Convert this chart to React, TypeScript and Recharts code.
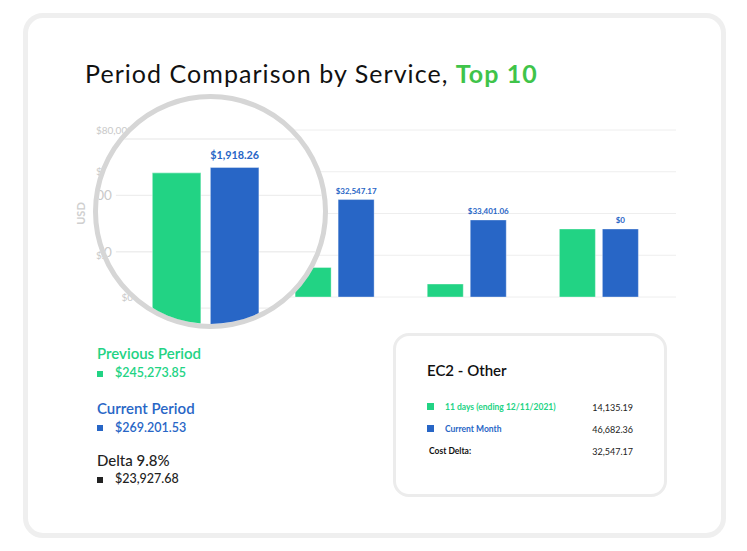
import React from "react";
import { BarChart, Bar, XAxis, YAxis, CartesianGrid, LabelList } from "recharts";

const categories = ["Amazon EC2", "EC2 - Other", "Amazon RDS", "Amazon S3"];
const previousPeriod = [68000, 14135.19, 6200, 32575];
const currentPeriod = [69918.26, 46682.36, 36900, 32575];
const deltaLabels = ["$1,918.26", "$32,547.17", "$33,401.06", "$0"];
const yTicks = [0, 20000, 40000, 60000, 80000];

const legendTitles = ["Previous Period", "Current Period", "Delta 9.8%"];
const legendValues = ["$245,273.85", "$269.201.53", "$23,927.68"];

const cardIndex = 1;
const cardRowLabels = ["11 days (ending 12/11/2021)", "Current Month", "Cost Delta:"];

const GREEN = "#22d384";
const BLUE = "#2866c6";
const DARK = "#222222";
const FONT = "Lato, 'Noto Sans', sans-serif";

const data = categories.map((name, i) => ({
  name,
  previous: previousPeriod[i],
  current: currentPeriod[i],
  delta: deltaLabels[i],
}));

const fmtTick = (v: number) => "$" + v.toLocaleString("en-US");
const fmtNum = (v: number) =>
  v.toLocaleString("en-US", { minimumFractionDigits: 2, maximumFractionDigits: 2 });

function PeriodChart() {
  return (
    <BarChart
      width={747}
      height={551}
      data={data}
      margin={{ top: 130, right: 71, bottom: 254, left: 76 }}
      barSize={36}
      barGap={7}
    >
      <CartesianGrid vertical={false} stroke="#eeeeee" />
      <XAxis dataKey="name" hide padding={{ left: 0, right: 11.5 }} />
      <YAxis
        width={60}
        domain={[0, 80000]}
        ticks={yTicks}
        tickFormatter={fmtTick}
        axisLine={false}
        tickLine={false}
        tickSize={0}
        tickMargin={3}
        tick={{ fill: "#c9c9c9", fontSize: 10, fontFamily: FONT }}
        label={{
          value: "USD",
          angle: -90,
          position: "insideLeft",
          offset: 5,
          style: { textAnchor: "middle", fill: "#cfcfcf", fontSize: 11, fontWeight: 700, fontFamily: FONT },
        }}
      />
      <Bar dataKey="previous" fill={GREEN} stroke="#ffffff" strokeOpacity={0.35} isAnimationActive={false} />
      <Bar dataKey="current" fill={BLUE} stroke="#ffffff" strokeOpacity={0.35} isAnimationActive={false}>
        <LabelList
          dataKey="delta"
          position="top"
          offset={6}
          fill={BLUE}
          fontSize={8}
          fontWeight={700}
          fontFamily={FONT}
          isAnimationActive={false}
        />
      </Bar>
    </BarChart>
  );
}

const abs = (left: number, top: number, extra: React.CSSProperties = {}): React.CSSProperties => ({
  position: "absolute",
  left,
  top,
  lineHeight: 1,
  whiteSpace: "nowrap",
  ...extra,
});

export default function App() {
  const legendColors = [GREEN, BLUE, DARK];
  const legendTops = [346, 400.7, 453.4];
  const valueTops = [366.9, 421.6, 473];
  const squareTops = [370.5, 425, 476.5];

  const cardValues = [
    fmtNum(previousPeriod[cardIndex]),
    fmtNum(currentPeriod[cardIndex]),
    fmtNum(currentPeriod[cardIndex] - previousPeriod[cardIndex]),
  ];
  const cardRowTops = [402.5, 424.5, 447];

  return (
    <div
      style={{
        position: "absolute",
        left: 0,
        top: 0,
        width: 747,
        height: 551,
        background: "#ffffff",
        overflow: "hidden",
        fontFamily: FONT,
      }}
    >
      {/* outer card */}
      <div
        style={{
          position: "absolute",
          left: 23,
          top: 13,
          width: 703,
          height: 525,
          boxSizing: "border-box",
          border: "5px solid #efefef",
          borderRadius: 20,
        }}
      />

      {/* title */}
      <div style={abs(85, 61, { fontSize: 25, letterSpacing: 1.05, color: "#111111" })}>
        Period Comparison by Service, <span style={{ color: "#3fc44a", fontWeight: 700 }}>Top 10</span>
      </div>

      {/* main chart */}
      <div style={{ position: "absolute", left: 0, top: 0 }}>
        <PeriodChart />
      </div>

      {/* magnifier */}
      <div
        style={{
          position: "absolute",
          left: 93,
          top: 94,
          width: 235,
          height: 235,
          boxSizing: "border-box",
          border: "5px solid #d6d6d6",
          borderRadius: "50%",
          overflow: "hidden",
          background: "#ffffff",
        }}
      >
        <div
          style={{
            position: "absolute",
            left: -98,
            top: -99,
            width: 747,
            height: 551,
            transform: "scale(1.35)",
            transformOrigin: "193.6px 104.3px",
          }}
        >
          <PeriodChart />
        </div>
      </div>

      {/* left legend */}
      {legendTitles.map((t, i) => (
        <React.Fragment key={t}>
          <div
            style={abs(97, legendTops[i], {
              fontSize: 15,
              fontWeight: i === 2 ? 500 : 600,
              color: legendColors[i],
            })}
          >
            {t}
          </div>
          <div style={abs(97, squareTops[i], { width: 6, height: 6, background: legendColors[i] })} />
          <div
            style={abs(115, valueTops[i], {
              fontSize: 12.5,
              fontWeight: i === 2 ? 500 : 600,
              color: legendColors[i],
            })}
          >
            {legendValues[i]}
          </div>
        </React.Fragment>
      ))}

      {/* detail card */}
      <div
        style={{
          position: "absolute",
          left: 393,
          top: 333,
          width: 274,
          height: 164,
          boxSizing: "border-box",
          border: "3px solid #ececec",
          borderRadius: 16,
          background: "#ffffff",
        }}
      />
      <div style={abs(427, 363.4, { fontSize: 15, fontWeight: 600, color: "#111111" })}>
        {categories[cardIndex]}
      </div>
      {cardRowLabels.map((lab, i) => (
        <React.Fragment key={lab}>
          {i < 2 && (
            <div style={abs(427, i === 0 ? 403 : 424.5, { width: 7, height: 7, background: i === 0 ? GREEN : BLUE })} />
          )}
          <div
            style={abs(i < 2 ? 445 : 429, cardRowTops[i], {
              fontSize: 8.5,
              fontWeight: 700,
              color: i === 0 ? GREEN : i === 1 ? BLUE : "#111111",
            })}
          >
            {lab}
          </div>
          <div
            style={abs(0, cardRowTops[i], {
              left: "auto",
              right: 747 - 633,
              fontSize: 9,
              color: DARK,
            })}
          >
            {cardValues[i]}
          </div>
        </React.Fragment>
      ))}
    </div>
  );
}
